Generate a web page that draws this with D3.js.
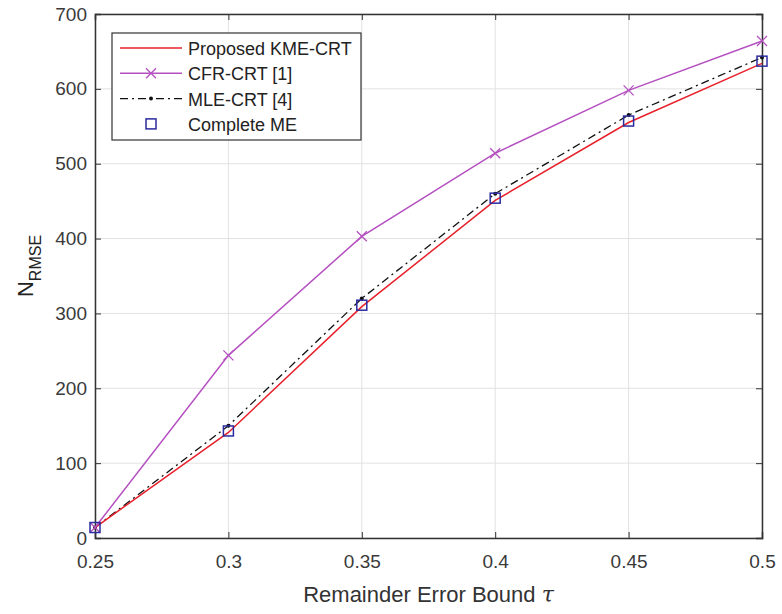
<!DOCTYPE html>
<html>
<head>
<meta charset="utf-8">
<script src="https://cdn.jsdelivr.net/npm/d3@7"></script>
<style>
  body { margin: 0; background: #fff; }
  text { font-family: "Liberation Sans", Arial, sans-serif; }
</style>
</head>
<body>
<div id="chart"></div>
<script>
// data
var tau = [0.25, 0.3, 0.35, 0.4, 0.45, 0.5];
var proposed = [14, 141, 309, 451, 555, 634];
var cfr = [14, 244, 403, 514, 598, 664];
var mle = [14, 150, 320, 460, 565, 642];
var complete = [14, 143, 311, 454, 557, 637];
var xTicks = [0.25, 0.3, 0.35, 0.4, 0.45, 0.5];
var yTicks = [0, 100, 200, 300, 400, 500, 600, 700];

var svgWidth = 782;
var svgHeight = 614;
var margin = { top: 14, right: 20, bottom: 76, left: 95 };
var width = svgWidth - margin.left - margin.right;
var height = svgHeight - margin.top - margin.bottom;

var svg = d3.select("#chart")
  .append("svg")
  .attr("width", svgWidth)
  .attr("height", svgHeight);

var chartGroup = svg.append("g")
  .attr("transform", `translate(${margin.left}, ${margin.top})`);

var x = d3.scaleLinear().domain([0.25, 0.5]).range([0, width]);
var y = d3.scaleLinear().domain([0, 700]).range([height, 0]);

// grid
chartGroup.append("g")
  .selectAll("line.gx")
  .data(xTicks)
  .enter().append("line")
  .attr("x1", d => x(d)).attr("x2", d => x(d))
  .attr("y1", 0).attr("y2", height)
  .attr("stroke", "#e2e2e2").attr("stroke-width", 1);
chartGroup.append("g")
  .selectAll("line.gy")
  .data(yTicks)
  .enter().append("line")
  .attr("x1", 0).attr("x2", width)
  .attr("y1", d => y(d)).attr("y2", d => y(d))
  .attr("stroke", "#e2e2e2").attr("stroke-width", 1);

// axes (ticks inside, MATLAB style)
var bottomAxis = d3.axisBottom(x).tickValues(xTicks).tickSize(-6).tickPadding(17)
  .tickFormat(d => String(+d.toFixed(2)));
var leftAxis = d3.axisLeft(y).tickValues(yTicks).tickSize(-6).tickPadding(8);
var topAxis = d3.axisTop(x).tickValues(xTicks).tickSize(-6).tickFormat("");
var rightAxis = d3.axisRight(y).tickValues(yTicks).tickSize(-6).tickFormat("");

function styleAxis(g) {
  g.select(".domain").attr("stroke", "#333").attr("stroke-width", 1.5);
  g.selectAll(".tick line").attr("stroke", "#333");
  g.selectAll(".tick text").attr("fill", "#3a3a3a").attr("font-size", 19);
}

chartGroup.append("g").attr("transform", `translate(0, ${height})`).call(bottomAxis).call(styleAxis);
chartGroup.append("g").call(leftAxis).call(styleAxis);
chartGroup.append("g").call(topAxis).call(styleAxis);
chartGroup.append("g").attr("transform", `translate(${width}, 0)`).call(rightAxis).call(styleAxis);

var line = d3.line().x((d, i) => x(tau[i])).y(d => y(d));

// MLE-CRT dash-dot
chartGroup.append("path")
  .datum(mle)
  .attr("d", line)
  .attr("fill", "none")
  .attr("stroke", "#111")
  .attr("stroke-width", 1.3)
  .attr("stroke-dasharray", "8,4,2,4");
chartGroup.selectAll("circle.mle")
  .data(mle).enter().append("circle")
  .attr("cx", (d, i) => x(tau[i])).attr("cy", d => y(d))
  .attr("r", 2).attr("fill", "#111");

// proposed
chartGroup.append("path")
  .datum(proposed)
  .attr("d", line)
  .attr("fill", "none")
  .attr("stroke", "#e8202a")
  .attr("stroke-width", 1.5);

// CFR
chartGroup.append("path")
  .datum(cfr)
  .attr("d", line)
  .attr("fill", "none")
  .attr("stroke", "#b550c0")
  .attr("stroke-width", 1.5);
chartGroup.selectAll("path.cfr")
  .data(cfr).enter().append("path")
  .attr("d", "M-5,-5L5,5M-5,5L5,-5")
  .attr("transform", (d, i) => `translate(${x(tau[i])}, ${y(d)})`)
  .attr("stroke", "#b550c0").attr("stroke-width", 1.3).attr("fill", "none");

// complete ME squares
chartGroup.selectAll("rect.cme")
  .data(complete).enter().append("rect")
  .attr("x", (d, i) => x(tau[i]) - 5).attr("y", d => y(d) - 5)
  .attr("width", 10).attr("height", 10)
  .attr("fill", "none").attr("stroke", "#2b2ba0").attr("stroke-width", 1.5);

// legend
var legend = chartGroup.append("g").attr("transform", "translate(17, 19)");
legend.append("rect")
  .attr("width", 249).attr("height", 107)
  .attr("fill", "#fff").attr("stroke", "#333").attr("stroke-width", 1.2);
var names = ["Proposed KME-CRT", "CFR-CRT [1]", "MLE-CRT [4]", "Complete ME"];
names.forEach(function(name, i) {
  var ly = 15 + i * 25.3;
  var g = legend.append("g").attr("transform", `translate(0, ${ly})`);
  if (i === 0) {
    g.append("line").attr("x1", 8).attr("x2", 70).attr("stroke", "#e8202a").attr("stroke-width", 1.5);
  } else if (i === 1) {
    g.append("line").attr("x1", 8).attr("x2", 70).attr("stroke", "#b550c0").attr("stroke-width", 1.5);
    g.append("path").attr("d", "M34,-5L44,5M34,5L44,-5").attr("stroke", "#b550c0").attr("stroke-width", 1.3);
  } else if (i === 2) {
    g.append("line").attr("x1", 8).attr("x2", 70).attr("stroke", "#111").attr("stroke-width", 1.3)
      .attr("stroke-dasharray", "8,4,2,4");
    g.append("circle").attr("cx", 39).attr("cy", 0).attr("r", 2).attr("fill", "#111");
  } else {
    g.append("rect").attr("x", 34).attr("y", -5).attr("width", 10).attr("height", 10)
      .attr("fill", "none").attr("stroke", "#2b2ba0").attr("stroke-width", 1.5);
  }
  g.append("text").attr("x", 76).attr("y", 7).attr("font-size", 18).attr("fill", "#222").text(name);
});

// axis labels
svg.append("text")
  .attr("x", margin.left + width / 2).attr("y", 602)
  .attr("text-anchor", "middle").attr("font-size", 22).attr("fill", "#333")
  .text("Remainder Error Bound ")
  .append("tspan").attr("font-style", "italic").attr("font-family", "DejaVu Serif").text("τ");

var yl = svg.append("text")
  .attr("transform", "translate(33, 266) rotate(-90)")
  .attr("text-anchor", "middle").attr("fill", "#222");
yl.append("tspan").attr("font-size", 22).text("N");
yl.append("tspan").attr("font-size", 16).attr("dy", 8).text("RMSE");
</script>
</body>
</html>
